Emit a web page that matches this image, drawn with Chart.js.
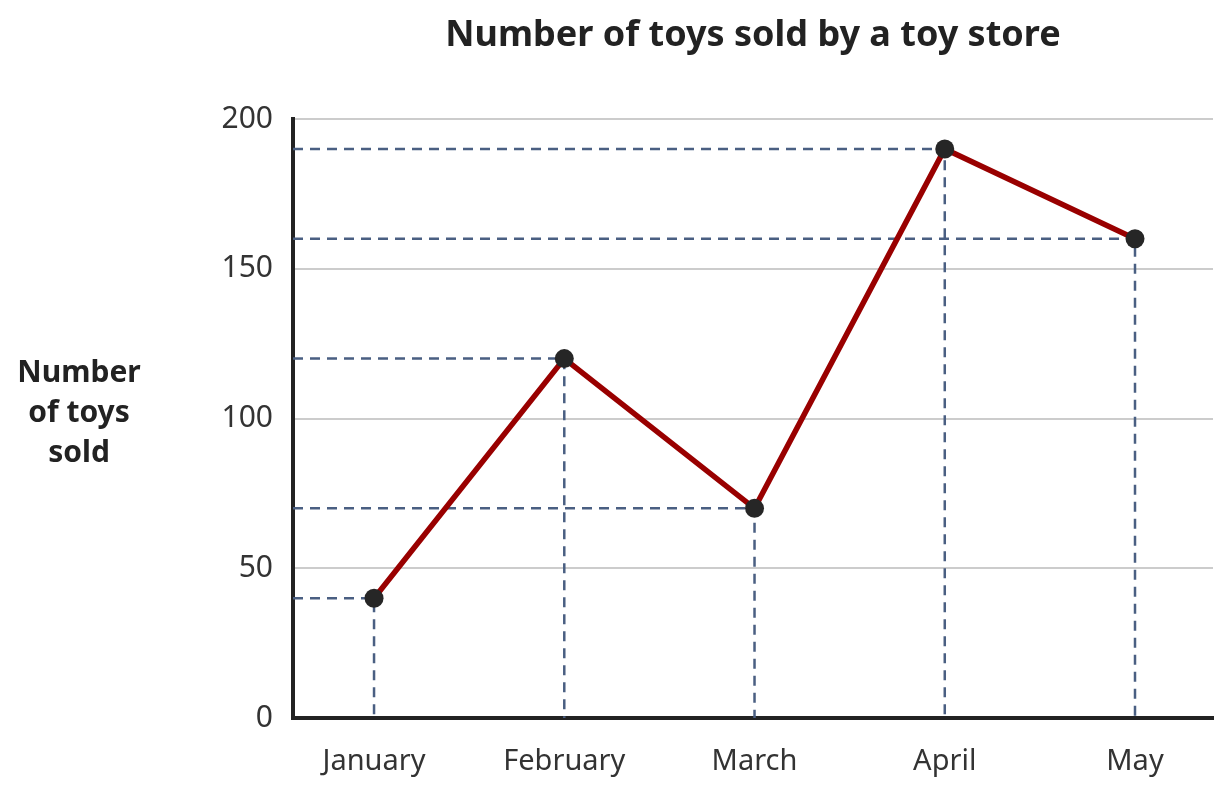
<!DOCTYPE html>
<html>
<head>
<meta charset="utf-8">
<script src="https://cdn.jsdelivr.net/npm/chart.js@4/dist/chart.umd.min.js"></script>
<style>
  html, body { margin: 0; padding: 0; background: #fff; }
  #wrap { width: 1232px; height: 796px; position: relative; }
</style>
</head>
<body>
<div id="wrap"><canvas id="graphic"></canvas></div>
<script>
const months = ['January', 'February', 'March', 'April', 'May'];
const toysSold = [40, 120, 70, 190, 160];
const yTicks = [0, 50, 100, 150, 200];
const chartTitle = 'Number of toys sold by a toy store';
const yTitle = ['Number', 'of toys', 'sold'];

const FONT = "'Noto Sans', 'Open Sans', sans-serif";
const xMin = -0.426;
const xMax = 4.41;

// guide lines: from the y axis to the point, then down to the x axis
const guides = toysSold.map((v, i) => ({
    data: [{ x: xMin, y: v }, { x: i, y: v }, { x: i, y: 0 }],
    borderColor: '#4a5f82',
    borderWidth: 2.5,
    borderDash: [10, 7],
    pointRadius: 0,
    fill: false,
    order: 1
}));

const textPlugin = {
    id: 'texts',
    afterDraw(chart) {
        const ctx = chart.ctx;
        const area = chart.chartArea;
        ctx.save();
        ctx.fillStyle = '#222';
        ctx.textAlign = 'center';
        ctx.textBaseline = 'middle';
        ctx.font = `bold 36px ${FONT}`;
        ctx.fillText(chartTitle, (area.left + area.right) / 2, 36);
        ctx.font = `bold 30px ${FONT}`;
        yTitle.forEach((t, i) => ctx.fillText(t, 79, 373 + i * 40));
        ctx.restore();
    }
};

new Chart(document.getElementById('graphic'), {
    type: 'line',
    data: {
        datasets: [
            {
                data: toysSold.map((v, i) => ({ x: i, y: v })),
                borderColor: '#990000',
                borderWidth: 5.5,
                pointRadius: 9.5,
                pointBackgroundColor: '#262626',
                pointBorderWidth: 0,
                fill: false,
                order: 0
            },
            ...guides
        ]
    },
    options: {
        responsive: true,
        maintainAspectRatio: false,
        animation: false,
        layout: { padding: { top: 119, right: 19, left: 0, bottom: 0 } },
        plugins: {
            legend: { display: false },
            tooltip: { enabled: false },
            title: { display: false }
        },
        scales: {
            x: {
                type: 'linear',
                min: xMin,
                max: xMax,
                afterBuildTicks: (s) => { s.ticks = months.map((m, i) => ({ value: i })); },
                afterFit: (s) => { s.height = 78; },
                ticks: {
                    callback: (v) => months[v],
                    font: { family: FONT, size: 29 },
                    color: '#333',
                    padding: 26,
                    maxRotation: 0,
                    autoSkip: false
                },
                grid: { display: false, drawTicks: false },
                border: { color: '#222', width: 4 }
            },
            y: {
                min: 0,
                max: 200,
                afterBuildTicks: (s) => { s.ticks = yTicks.map((v) => ({ value: v })); },
                afterFit: (s) => { s.width = 293; },
                ticks: {
                    font: { family: FONT, size: 30 },
                    color: '#333',
                    padding: 20
                },
                grid: { color: '#cccccc', lineWidth: 2, drawTicks: false },
                border: { color: '#222', width: 4 }
            }
        }
    },
    plugins: [textPlugin]
});
</script>
</body>
</html>
